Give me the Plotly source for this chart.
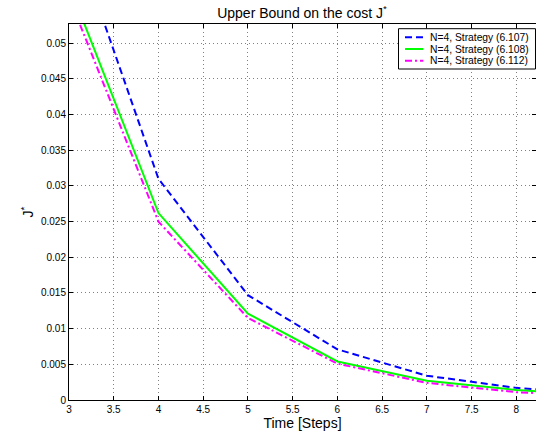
import plotly.graph_objects as go

steps = [3, 4, 5, 6, 7, 8, 9]
j_6107 = [0.0670, 0.0310, 0.0147, 0.0071, 0.0034, 0.0017, 0.0008]
j_6108 = [0.0582, 0.0262, 0.0121, 0.0054, 0.0027, 0.0014, 0.0006]
j_6112 = [0.0565, 0.0250, 0.0115, 0.0051, 0.0024, 0.0011, 0.0005]
names = ["N=4, Strategy (6.107)", "N=4, Strategy (6.108)", "N=4, Strategy (6.112)"]
colors = ["#0000ff", "#00ff00", "#ff00ff"]
dashes = ["7px,4px", "solid", "7px,3px,2px,3px"]
series = [j_6107, j_6108, j_6112]

font = "Liberation Sans, Arial, sans-serif"
fig = go.Figure()
for name, ys, c, d in zip(names, series, colors, dashes):
    fig.add_trace(go.Scatter(x=steps, y=ys, mode="lines", name=name, showlegend=False,
                             line=dict(color=c, width=2, dash=d)))

axis_common = dict(showline=True, linecolor="black", linewidth=1, mirror="ticks",
                   ticks="inside", ticklen=4, tickcolor="black",
                   showgrid=True, gridcolor="#808080", griddash="1px,3px", gridwidth=1,
                   zeroline=False, tickfont=dict(family=font, size=10, color="black"))

# custom compact legend (MATLAB style) in paper coordinates
box = dict(x0=0.7056, x1=0.9989, y0=0.8803, y1=0.9875)
rows = [0.9646, 0.9335, 0.9024]
shapes = [dict(type="rect", xref="paper", yref="paper", layer="above",
               fillcolor="white", line=dict(color="black", width=1), **box)]
annotations = []
for name, c, d, yr in zip(names, colors, dashes, rows):
    shapes.append(dict(type="line", xref="paper", yref="paper", layer="above",
                       x0=0.7195, x1=0.7587, y0=yr, y1=yr,
                       line=dict(color=c, width=2, dash=d)))
    annotations.append(dict(text=name, xref="paper", yref="paper", x=0.7687, y=yr,
                            xanchor="left", yanchor="middle", showarrow=False,
                            font=dict(family=font, size=10.3, color="black")))

fig.update_layout(
    width=536, height=439,
    margin=dict(l=69, r=0, t=24, b=39),
    paper_bgcolor="white", plot_bgcolor="white",
    title=dict(text="Upper Bound on the cost J<sup>*</sup>", x=0.5634, xanchor="center",
               y=0.982, yanchor="top", font=dict(family=font, size=14, color="black")),
    xaxis=dict(range=[3, 8.22], tickvals=[3, 3.5, 4, 4.5, 5, 5.5, 6, 6.5, 7, 7.5, 8],
               title=dict(text="Time [Steps]", font=dict(family=font, size=14, color="black"), standoff=2),
               **axis_common),
    yaxis=dict(range=[0, 0.0527], dtick=0.005,
               title=dict(text="J<sup>*</sup>", font=dict(family=font, size=14, color="black"), standoff=4),
               **axis_common),
    shapes=shapes,
    annotations=annotations,
    showlegend=False,
)
fig.write_html("out.html")
